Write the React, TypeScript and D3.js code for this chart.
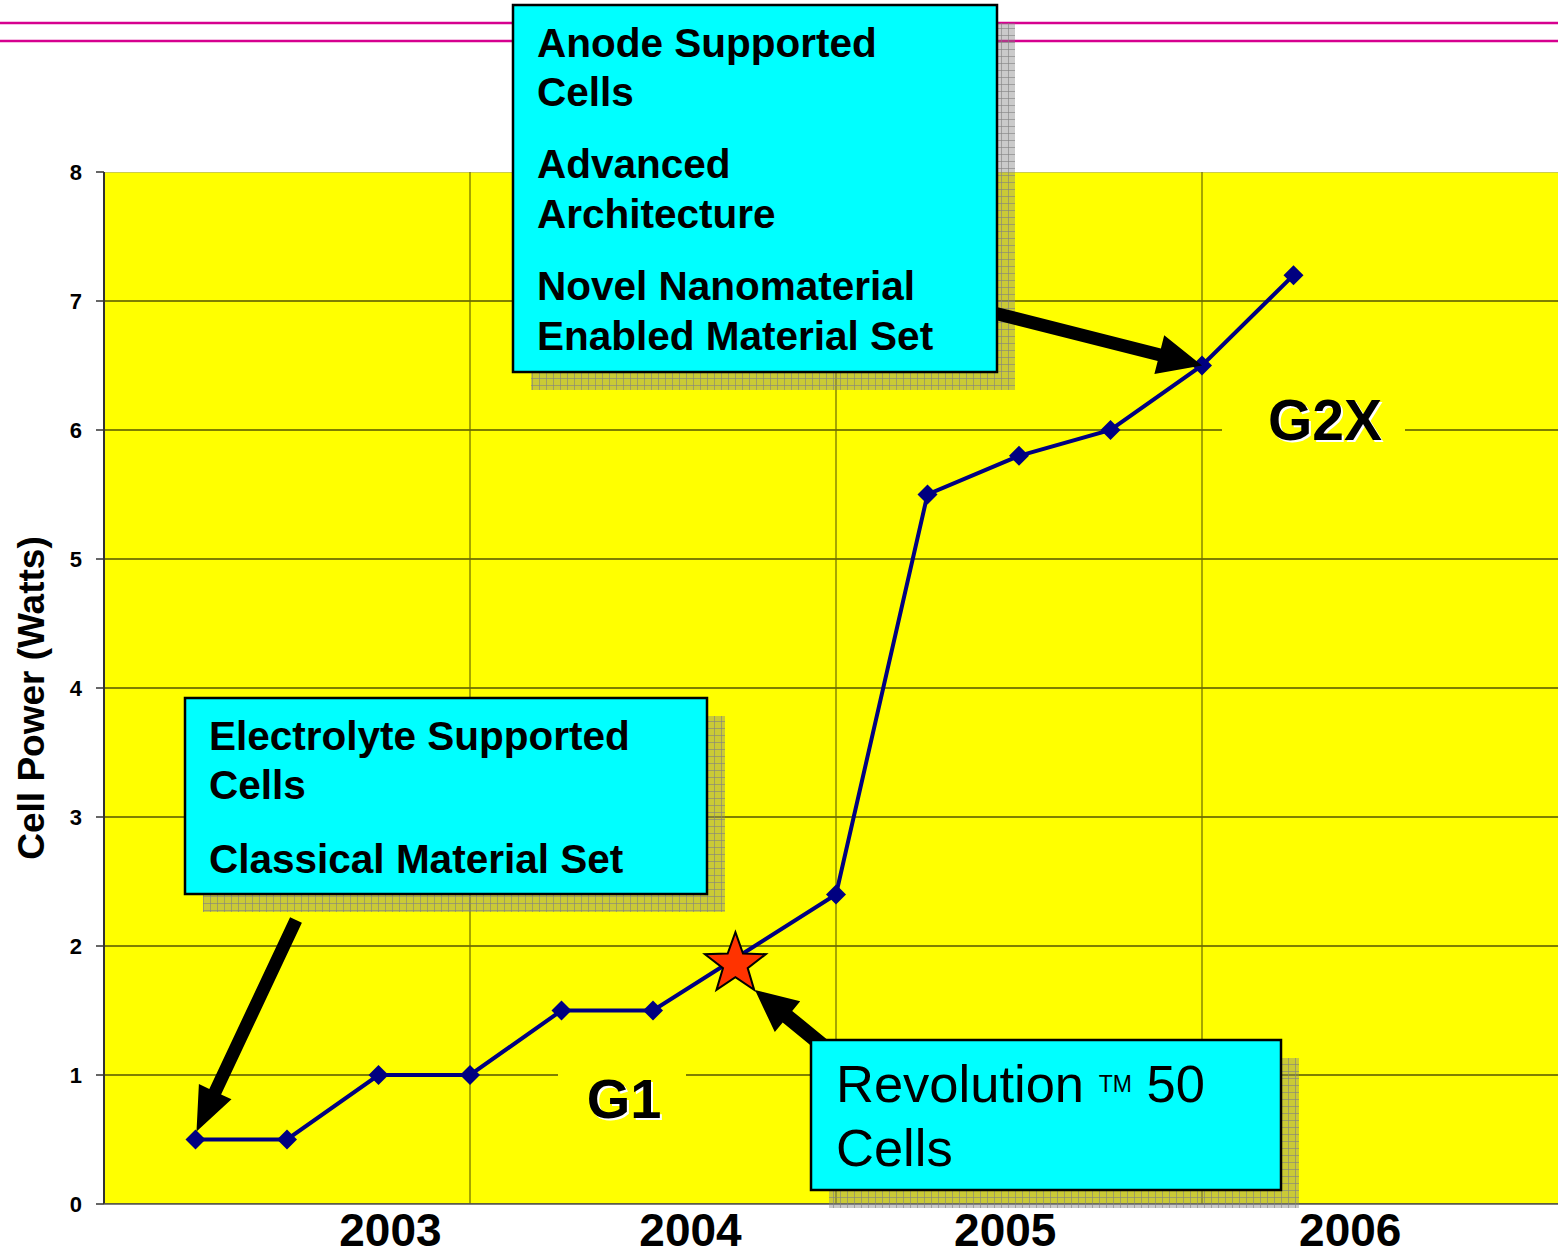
import React, { useEffect } from "react";
import * as d3 from "d3";

// quarter index (1..13) and cell power in watts
const quarters = [1, 2, 3, 4, 5, 6, 7, 8, 9, 10, 11, 12, 13];
const power = [0.5, 0.5, 1.0, 1.0, 1.5, 1.5, 1.95, 2.4, 5.5, 5.8, 6.0, 6.5, 7.2];
const yTicks = [0, 1, 2, 3, 4, 5, 6, 7, 8];
const yearLabels = ["2003", "2004", "2005", "2006"];
const yearPos = [3.13, 6.41, 9.85, 13.62];
const verticalGrid = [4, 8, 12];
const starPoint = { q: 6.9, v: 1.86 };
const starIndex = 6; // point hidden under the star

const W = 1558;
const H = 1255;
const FONT = "'Liberation Sans', Arial, sans-serif";

type Pt = [number, number];

function arrowPath(from: Pt, to: Pt, shaft: number, headLen: number, headW: number) {
  const dx = to[0] - from[0];
  const dy = to[1] - from[1];
  const len = Math.hypot(dx, dy);
  const ux = dx / len;
  const uy = dy / len;
  const nx = -uy;
  const ny = ux;
  const bx = to[0] - ux * headLen;
  const by = to[1] - uy * headLen;
  const p = (x: number, y: number) => `${x.toFixed(1)},${y.toFixed(1)}`;
  return (
    "M" +
    [
      p(from[0] + (nx * shaft) / 2, from[1] + (ny * shaft) / 2),
      p(bx + (nx * shaft) / 2, by + (ny * shaft) / 2),
      p(bx + (nx * headW) / 2, by + (ny * headW) / 2),
      p(to[0], to[1]),
      p(bx - (nx * headW) / 2, by - (ny * headW) / 2),
      p(bx - (nx * shaft) / 2, by - (ny * shaft) / 2),
      p(from[0] - (nx * shaft) / 2, from[1] - (ny * shaft) / 2),
    ].join("L") +
    "Z"
  );
}

function starPath(cx: number, cy: number, r: number, ri: number) {
  const pts: string[] = [];
  for (let i = 0; i < 10; i++) {
    const a = -Math.PI / 2 + (i * Math.PI) / 5;
    const rr = i % 2 === 0 ? r : ri;
    pts.push(`${(cx + rr * Math.cos(a)).toFixed(1)},${(cy + rr * Math.sin(a)).toFixed(1)}`);
  }
  return "M" + pts.join("L") + "Z";
}

function Shadow({ x, y, w, h }: { x: number; y: number; w: number; h: number }) {
  return <rect x={x + 18} y={y + 18} width={w} height={h} fill="url(#shadowPat)" />;
}

function Callout({ x, y, w, h }: { x: number; y: number; w: number; h: number }) {
  return <rect x={x} y={y} width={w} height={h} fill="#00ffff" stroke="#000" strokeWidth={2.5} />;
}

export default function App() {
  useEffect(() => {
    document.body.style.margin = "0";
  }, []);

  const x = d3.scaleLinear().domain([0, 16]).range([104, 1568]);
  const y = d3.scaleLinear().domain([0, 8]).range([1204, 172]);

  const line = d3
    .line<number>()
    .x((_, i) => x(quarters[i]))
    .y((d) => y(d));

  const marker = d3.symbol(d3.symbolSquare, 200)();

  const lines1 = ["Anode Supported", "Cells", "Advanced", "Architecture", "Novel Nanomaterial", "Enabled Material Set"];
  const lines1y = [57, 106, 178, 228, 300, 350];
  const lines2 = ["Electrolyte Supported", "Cells", "Classical Material Set"];
  const lines2y = [750, 799, 873];

  const boxes = [
    { x: 513, y: 5, w: 484, h: 367 },
    { x: 185, y: 698, w: 522, h: 196 },
    { x: 811, y: 1040, w: 470, h: 150 },
  ];

  return (
    <svg width={W} height={H} style={{ display: "block" }} fontFamily={FONT}>
      <defs>
        <pattern id="shadowPat" width={7} height={7} patternUnits="userSpaceOnUse">
          <rect width={7} height={7} fill="#808080" fillOpacity={0.42} />
          <path d="M0,0.5H7M0.5,0V7" stroke="#808080" strokeOpacity={0.6} strokeWidth={1} />
        </pattern>
        <clipPath id="plotClip">
          <rect x={104} y={172} width={W - 104} height={1204 - 172} />
        </clipPath>
      </defs>
      <rect width={W} height={H} fill="#fff" />

      {/* header rules */}
      <line x1={0} x2={W} y1={23} y2={23} stroke="#d6008f" strokeWidth={2.5} />
      <line x1={0} x2={W} y1={41} y2={41} stroke="#d6008f" strokeWidth={2.5} />

      {/* plot area */}
      <rect x={104} y={172} width={W - 104} height={1204 - 172} fill="#ffff00" />
      <g clipPath="url(#plotClip)">
        {yTicks.map((t) => (
          <line key={t} x1={104} x2={W} y1={y(t)} y2={y(t)} stroke={t === 8 ? "#999" : "#000"} strokeWidth={1.2} />
        ))}
        {verticalGrid.map((q) => (
          <line key={q} x1={x(q)} x2={x(q)} y1={172} y2={1204} stroke="#6b6b00" strokeWidth={1.2} />
        ))}
      </g>
      <line x1={104} x2={104} y1={172} y2={1204} stroke="#333" strokeWidth={2} />
      <line x1={104} x2={W} y1={1204} y2={1204} stroke="#555" strokeWidth={1.5} />

      {/* y axis */}
      {yTicks.map((t) => (
        <g key={t}>
          <line x1={96} x2={104} y1={y(t)} y2={y(t)} stroke="#333" strokeWidth={1.5} />
          <text x={82} y={y(t) + 8} textAnchor="end" fontSize={22} fontWeight="bold">
            {t}
          </text>
        </g>
      ))}
      <text
        transform={`translate(44,698) rotate(-90)`}
        textAnchor="middle"
        fontSize={37}
        fontWeight="bold"
      >
        Cell Power (Watts)
      </text>

      {/* x year labels */}
      {yearLabels.map((l, i) => (
        <text key={l} x={x(yearPos[i])} y={1246} textAnchor="middle" fontSize={46} fontWeight="bold">
          {l}
        </text>
      ))}

      {/* generation labels */}
      <rect x={558} y={1060} width={128} height={70} fill="#ffff00" />
      <text x={626} y={1120} textAnchor="middle" fontSize={56} fontWeight="bold" fill="#fff">G1</text>
      <text x={624} y={1118} textAnchor="middle" fontSize={56} fontWeight="bold">G1</text>
      <rect x={1222} y={390} width={183} height={70} fill="#ffff00" />
      <text x={1327} y={442} textAnchor="middle" fontSize={57} fontWeight="bold" fill="#fff">G2X</text>
      <text x={1325} y={440} textAnchor="middle" fontSize={57} fontWeight="bold">G2X</text>

      {/* series */}
      <path d={line(power) ?? ""} fill="none" stroke="#000080" strokeWidth={4} />
      {power.map((v, i) =>
        i === starIndex ? null : (
          <path
            key={i}
            d={marker}
            transform={`translate(${x(quarters[i])},${y(v)}) rotate(45)`}
            fill="#000080"
          />
        )
      )}
      <path
        d={starPath(x(starPoint.q), y(starPoint.v), 32, 13)}
        fill="#ff3300"
        stroke="#000"
        strokeWidth={2}
      />

      {/* callout shadows, arrows, boxes */}
      {boxes.map((b, i) => (
        <Shadow key={i} {...b} />
      ))}
      <path d={arrowPath([990, 312], [x(12), y(6.5)], 13, 44, 40)} fill="#000" />
      <path d={arrowPath([296, 920], [x(1) + 1, y(0.5) - 8], 13, 44, 36)} fill="#000" />
      <path d={arrowPath([822, 1045], [755, 990], 15, 42, 40)} fill="#000" />
      {boxes.map((b, i) => (
        <Callout key={i} {...b} />
      ))}

      {/* callout text */}
      {lines1.map((l, i) => (
        <text key={l} x={537} y={lines1y[i]} fontSize={40.5} fontWeight="bold">
          {l}
        </text>
      ))}
      {lines2.map((l, i) => (
        <text key={l} x={209} y={lines2y[i]} fontSize={40.5} fontWeight="bold">
          {l}
        </text>
      ))}
      <text x={836} y={1102} fontSize={52.5}>
        Revolution <tspan fontSize={23} dy={-10}>TM</tspan>
        <tspan dy={10}> 50</tspan>
      </text>
      <text x={836} y={1166} fontSize={52.5}>
        Cells
      </text>
    </svg>
  );
}
